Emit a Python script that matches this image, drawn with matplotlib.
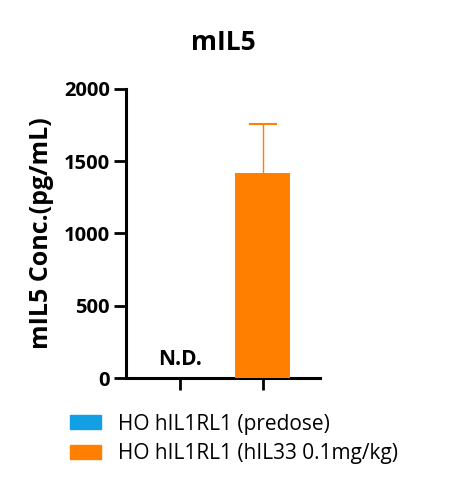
import numpy as np
import matplotlib.pyplot as plt
from matplotlib.patches import Patch

plt.rcParams['font.family'] = ['Open Sans', 'DejaVu Sans']

groups = ['HO hIL1RL1 (predose)', 'HO hIL1RL1 (hIL33 0.1mg/kg)']
means = [0, 1420]
errs = [0, 335]
colors = ['#129fe4', '#ff8000']
yticks = [0, 500, 1000, 1500, 2000]

fig = plt.figure(figsize=(4.59, 4.86), dpi=100)
ax = fig.add_axes([0.2745, 0.2222, 0.4227, 0.5947])

x = np.arange(len(groups))
ax.bar(x, means, width=0.66, color=colors, zorder=3)
for xi, m, e, c in zip(x, means, errs, colors):
    if m > 0:
        eb = ax.errorbar(xi, m, yerr=[[0], [e]], color=c, capsize=10,
                         elinewidth=1.0, capthick=1.5, fmt='none', zorder=2)
        # hide the cap at the bar top, keep only the upper one
        eb[1][0].set_visible(False)
    else:
        ax.text(xi, 130, 'N.D.', ha='center', va='center',
                fontsize=15, fontweight='bold')

ax.set_xlim(-0.65, 1.69)
ax.set_ylim(0, 2000)
ax.set_yticks(yticks)
ax.set_xticks(x)
ax.set_xticklabels([])
ax.tick_params(axis='both', width=2, length=8.6, labelsize=14.5, pad=3)
for lab in ax.get_yticklabels():
    lab.set_fontweight('bold')
for s in ['top', 'right']:
    ax.spines[s].set_visible(False)
for s in ['left', 'bottom']:
    ax.spines[s].set_linewidth(2.2)

ax.set_ylabel('mIL5 Conc.(pg/mL)', fontsize=18, fontweight='bold', labelpad=7)
ax.set_title('mIL5', fontsize=19, fontweight='bold', pad=28)

handles = [Patch(color=c) for c in colors]
fig.legend(handles, groups, loc='upper left', bbox_to_anchor=(0.1335, 0.166),
           frameon=False, fontsize=15, handlelength=1.5, handleheight=0.67,
           handletextpad=0.82, labelspacing=0.4, borderaxespad=0)

fig.savefig('out.png', dpi=100)
